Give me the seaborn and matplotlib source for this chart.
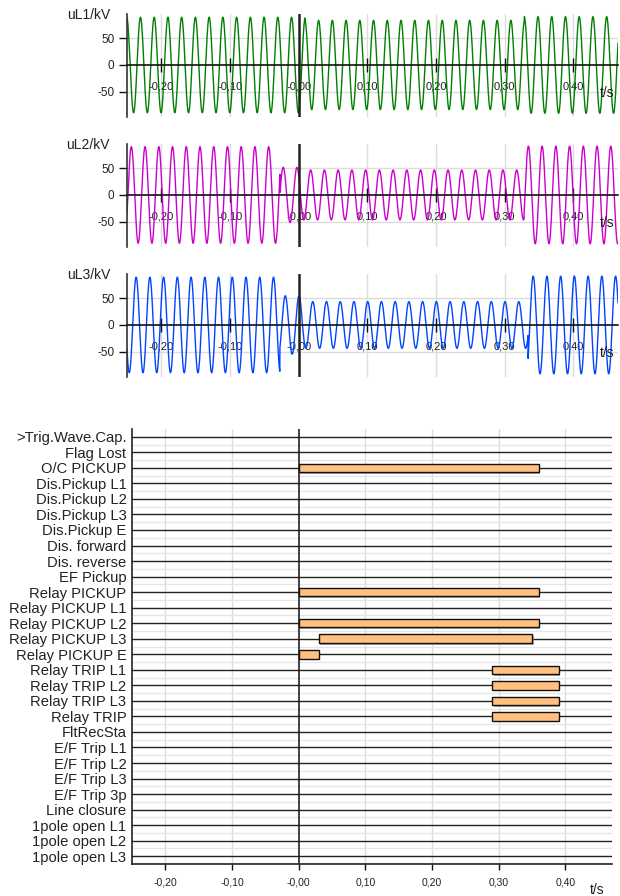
import numpy as np
import pandas as pd
import matplotlib
matplotlib.use("Agg")
import matplotlib.pyplot as plt
import matplotlib.patheffects as pe
import seaborn as sns

# ---------------- data ----------------
FREQ_HZ = 50.0
T_START, T_END = -0.25, 0.465

# analog channels: piecewise sinusoid segments (start time s, peak kV, time of a positive peak s)
uL1_seg_start = [-0.25, 0.009, 0.3285]
uL1_seg_amp = [90, 84, 91]
uL1_seg_peak = [0.0096, 0.0090, 0.0085]

uL2_seg_start = [-0.25, -0.0273, 0.0025, 0.328]
uL2_seg_amp = [91, 52, 47, 92]
uL2_seg_peak = [-0.0037, -0.0025, -0.0025, 0.0145]

uL3_seg_start = [-0.25, -0.0275, 0.0055, 0.334]
uL3_seg_amp = [90, 55, 44, 92]
uL3_seg_peak = [0.0033, 0.0005, 0.0005, 0.0015]

analog_names = ["uL1/kV", "uL2/kV", "uL3/kV"]
analog_colors = ["#008000", "#cc00cc", "#0044ff"]

time_ticks = [-0.2, -0.1, 0.0, 0.1, 0.2, 0.3, 0.4]
time_tick_labels = ["-0,20", "-0,10", "-0,00", "0,10", "0,20", "0,30", "0,40"]
volt_ticks = [-50, 0, 50]
volt_tick_labels = ["-50", "0", "50"]

channels = [">Trig.Wave.Cap.", "Flag Lost", "O/C PICKUP", "Dis.Pickup L1", "Dis.Pickup L2",
            "Dis.Pickup L3", "Dis.Pickup E", "Dis. forward", "Dis. reverse", "EF Pickup",
            "Relay PICKUP", "Relay PICKUP L1", "Relay PICKUP L2", "Relay PICKUP L3",
            "Relay PICKUP E", "Relay TRIP L1", "Relay TRIP L2", "Relay TRIP L3", "Relay TRIP",
            "FltRecSta", "E/F Trip L1", "E/F Trip L2", "E/F Trip L3", "E/F Trip 3p",
            "Line closure", "1pole open L1", "1pole open L2", "1pole open L3"]

bar_channels = ["O/C PICKUP", "Relay PICKUP", "Relay PICKUP L2", "Relay PICKUP L3",
                "Relay PICKUP E", "Relay TRIP L1", "Relay TRIP L2", "Relay TRIP L3", "Relay TRIP"]
bar_start = [0.0, 0.0, 0.0, 0.03, 0.0, 0.29, 0.29, 0.29, 0.29]
bar_end = [0.36, 0.36, 0.36, 0.35, 0.03, 0.39, 0.39, 0.39, 0.39]

# ---------------- drawing ----------------
sns.set_style("white")
plt.rcParams['font.family'] = ['Liberation Sans', 'DejaVu Sans']
plt.rcParams['axes.unicode_minus'] = False

W, H = 620, 896
fig = plt.figure(figsize=(W / 100, H / 100), dpi=100)


def frac(l, t, r, b):
    return [l / W, 1 - b / H, (r - l) / W, (b - t) / H]


t = np.arange(T_START, T_END + 1e-9, 0.0001)


def wave(starts, amps, peaks):
    idx = np.clip(np.searchsorted(starts, t, side='right') - 1, 0, len(starts) - 1)
    A = np.asarray(amps, float)[idx]
    P = np.asarray(peaks, float)[idx]
    return A * np.cos(2 * np.pi * FREQ_HZ * (t - P))


segs = [(uL1_seg_start, uL1_seg_amp, uL1_seg_peak),
        (uL2_seg_start, uL2_seg_amp, uL2_seg_peak),
        (uL3_seg_start, uL3_seg_amp, uL3_seg_peak)]

GRID = "#dcdcdc"
for k, (name, color, (st, am, pk)) in enumerate(zip(analog_names, analog_colors, segs)):
    off = 130 * k
    ax = fig.add_axes(frac(127, 14 + off, 618, 117 + off))
    df = pd.DataFrame({"t": t, "u": wave(st, am, pk)})
    for x in time_ticks:
        if x != 0:
            ax.axvline(x, color=GRID, lw=1, zorder=0)
    for y in (-50, 50):
        ax.axhline(y, color=GRID, lw=1, zorder=0)
    sns.lineplot(data=df, x="t", y="u", ax=ax, color=color, lw=1.0,
                 estimator=None, sort=False, zorder=2)
    ax.axvline(0, color="#222222", lw=1.8, zorder=3)
    ax.set_xlim(-0.25, 0.465)
    ax.set_ylim(-98, 96)
    ax.set_xlabel("")
    ax.set_ylabel("")
    for s in ("top", "right"):
        ax.spines[s].set_visible(False)
    ax.spines["bottom"].set_position(("data", 0))
    ax.spines["bottom"].set_color("#111111")
    ax.spines["bottom"].set_linewidth(1.2)
    ax.spines["left"].set_color("#333333")
    ax.spines["left"].set_linewidth(1.2)
    ax.set_xticks(time_ticks)
    ax.set_xticklabels(time_tick_labels, fontsize=8, color="#222222")
    ax.tick_params(axis="x", direction="inout", length=10, width=1, pad=7,
                   color="#111111", bottom=True)
    ax.set_yticks(volt_ticks)
    ax.set_yticklabels(volt_tick_labels, fontsize=8.5, color="#222222")
    ax.tick_params(axis="y", direction="out", length=6, width=1, pad=3,
                   color="#111111", left=True)
    fig.text(110 / W, 1 - (15 + off) / H, name, ha="right", va="center",
             fontsize=10, color="#222222")
    fig.text(607 / W, 1 - (93 + off) / H, "t/s", ha="center", va="center",
             fontsize=10, color="#222222")

# digital channels
axd = fig.add_axes(frac(132, 429, 612, 864))
n = len(channels)
axd.set_xlim(-0.25, 0.47)
axd.set_ylim(n - 0.5, -0.5)
for x in time_ticks:
    if x != 0:
        axd.axvline(x, color=GRID, lw=1, zorder=0)
for i in range(n):
    axd.axhline(i + 0.5, color="#e6e6e6", lw=1, zorder=0)
    axd.axhline(i, color="#222222", lw=1, zorder=2)
axd.axvline(0, color="#222222", lw=1.2, zorder=2.5)

ypos = [channels.index(c) for c in bar_channels]
widths = [e - s for s, e in zip(bar_start, bar_end)]
bars = axd.barh(ypos, widths, left=bar_start, height=0.55, color="#ffc080",
                edgecolor="#111111", linewidth=1, zorder=3)
for b in bars:
    b.set_path_effects([pe.SimplePatchShadow(offset=(1.2, -1.2), shadow_rgbFace="#888888",
                                             alpha=0.7), pe.Normal()])

axd.set_yticks(range(n))
axd.set_yticklabels(channels, fontsize=10.6, color="#222222")
axd.tick_params(axis="y", length=0, pad=4)
axd.set_xticks(time_ticks)
axd.set_xticklabels(time_tick_labels, fontsize=7.5, color="#222222")
axd.tick_params(axis="x", direction="out", length=4, width=1, pad=6,
                color="#111111", bottom=True)
for s in ("top", "right"):
    axd.spines[s].set_visible(False)
axd.spines["left"].set_color("#222222")
axd.spines["bottom"].set_color("#222222")
axd.spines["left"].set_linewidth(1.2)
axd.spines["bottom"].set_linewidth(1.2)
fig.text(597 / W, 1 - 890 / H, "t/s", ha="center", va="center", fontsize=10,
         color="#222222")

fig.savefig("out.png", dpi=100)
